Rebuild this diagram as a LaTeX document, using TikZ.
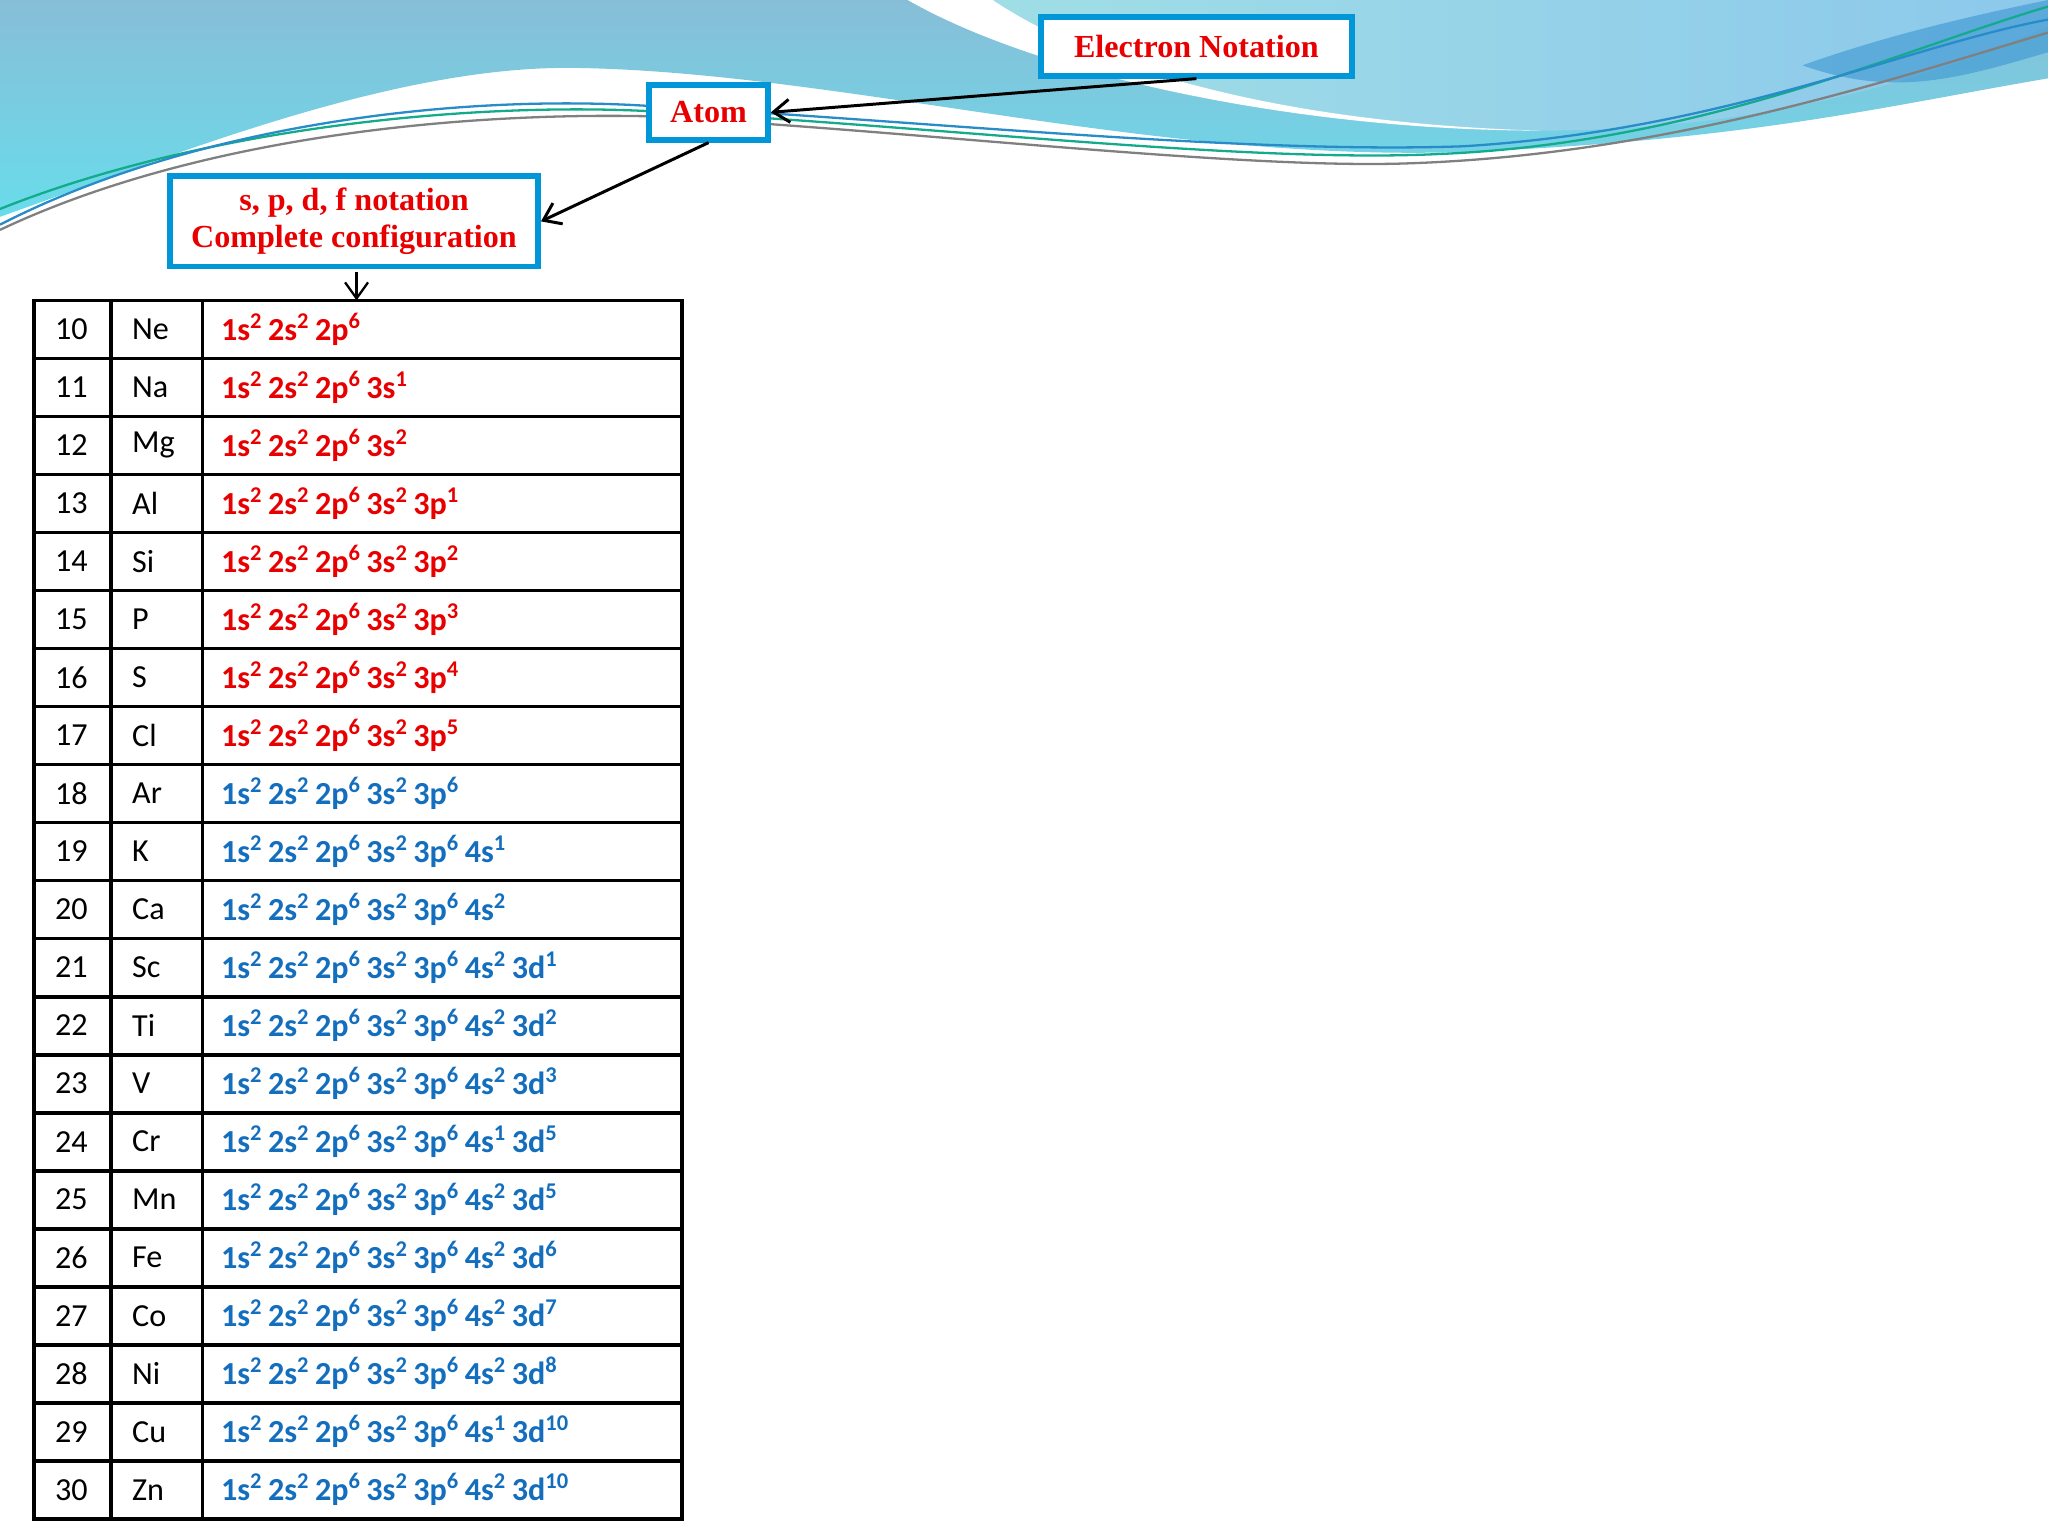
\documentclass[tikz,border=0pt]{standalone}
\usepackage{fontspec}
\setmainfont{Carlito}
\newfontfamily\boxfont{Liberation Serif}
\usetikzlibrary{arrows.meta}
\definecolor{cred}{RGB}{232,0,0}
\definecolor{cblue}{RGB}{20,110,190}
\definecolor{bord}{RGB}{0,150,215}
\definecolor{wa}{RGB}{105,220,235}
\definecolor{wb}{RGB}{135,190,215}
\definecolor{wc}{RGB}{160,222,230}
\definecolor{wd}{RGB}{140,200,235}
\definecolor{we}{RGB}{60,150,210}
\definecolor{la}{RGB}{20,170,140}
\definecolor{lb}{RGB}{40,140,200}
\newcommand\orb[2]{#1\textsuperscript{#2}\,}
\tikzset{
  lbl/.style={draw=bord,line width=2.5pt,fill=white,font=\boxfont\bfseries\fontsize{14}{17}\selectfont,text=cred,align=center,inner sep=0pt},
  arr/.style={-{Straight Barb[length=7pt,width=10pt]},line width=1.3pt},
  cell/.style={anchor=west,font=\fontsize{14}{16}\selectfont},
  cfg/.style={anchor=west,font=\bfseries\fontsize{14}{16}\selectfont}
}
\begin{document}
\begin{tikzpicture}[x=0.02cm,y=-0.02cm]
\useasboundingbox (0,0) rectangle (1568,1176);
\fill[white] (0,0) rectangle (1568,1176);
% background waves
\shade[top color=wb,bottom color=wa]
  (0,0) -- (0,166) .. controls (130,120) and (300,50) .. (440,52) .. controls (650,55) and (900,130) .. (1150,115)
  .. controls (1350,105) and (1450,80) .. (1568,60) -- (1568,0) -- cycle;
\shade[left color=wc,right color=wd]
  (760,0) .. controls (850,60) and (1000,95) .. (1180,100) .. controls (1350,100) and (1480,60) .. (1568,20) -- (1568,0) -- cycle;
\fill[white] (695,0) -- (760,0) .. controls (850,60) and (1000,95) .. (1180,100) .. controls (1000,100) and (800,60) .. (695,0) -- cycle;
\fill[white] (0,170) .. controls (130,125) and (300,55) .. (440,55) .. controls (650,58) and (900,132) .. (1150,118)
  .. controls (1350,108) and (1450,82) .. (1568,64) -- (1568,1176) -- (0,1176) -- cycle;
\fill[we,opacity=0.6] (1380,50) .. controls (1450,25) and (1520,10) .. (1568,0) -- (1568,40) .. controls (1500,60) and (1450,75) .. (1380,50) -- cycle;
\draw[la,line width=1pt] (0,160) .. controls (150,100) and (350,78) .. (495,85) .. controls (700,95) and (950,125) .. (1100,118) .. controls (1300,110) and (1450,40) .. (1568,5);
\draw[lb,line width=1pt] (0,172) .. controls (150,95) and (350,72) .. (495,81) .. controls (700,92) and (950,118) .. (1120,112) .. controls (1320,100) and (1460,35) .. (1568,15);
\draw[gray,line width=1pt] (0,176) .. controls (150,105) and (350,86) .. (495,89) .. controls (700,100) and (950,130) .. (1080,125) .. controls (1280,118) and (1450,60) .. (1568,25);
% boxes
\node[lbl,minimum width=4.76cm,minimum height=0.9cm] (en) at (916,35.5) {Electron Notation};
\node[lbl,minimum width=1.82cm,minimum height=0.84cm] (atom) at (542.5,86) {Atom};
\node[lbl,minimum width=5.64cm,minimum height=1.38cm] (spdf) at (271,169.5) {s, p, d, f notation\\[-1pt]Complete configuration};
% table
\coordinate (ttop) at (273,230);
\coordinate (sbot) at (273,208);
\draw[line width=1.5pt] (26,230) rectangle (522,1163);
\foreach \i in {1,...,20} \draw[line width=1.5pt] (26,230+\i*44.43) -- (522,230+\i*44.43);
\draw[line width=1.5pt] (85,230) -- (85,1163) (155,230) -- (155,1163);
\foreach [count=\k from 0] \n/\s/\c/\col in {
10/Ne/{\orb{1s}{2}\orb{2s}{2}\orb{2p}{6}}/cred,
11/Na/{\orb{1s}{2}\orb{2s}{2}\orb{2p}{6}\orb{3s}{1}}/cred,
12/Mg/{\orb{1s}{2}\orb{2s}{2}\orb{2p}{6}\orb{3s}{2}}/cred,
13/Al/{\orb{1s}{2}\orb{2s}{2}\orb{2p}{6}\orb{3s}{2}\orb{3p}{1}}/cred,
14/Si/{\orb{1s}{2}\orb{2s}{2}\orb{2p}{6}\orb{3s}{2}\orb{3p}{2}}/cred,
15/P/{\orb{1s}{2}\orb{2s}{2}\orb{2p}{6}\orb{3s}{2}\orb{3p}{3}}/cred,
16/S/{\orb{1s}{2}\orb{2s}{2}\orb{2p}{6}\orb{3s}{2}\orb{3p}{4}}/cred,
17/Cl/{\orb{1s}{2}\orb{2s}{2}\orb{2p}{6}\orb{3s}{2}\orb{3p}{5}}/cred,
18/Ar/{\orb{1s}{2}\orb{2s}{2}\orb{2p}{6}\orb{3s}{2}\orb{3p}{6}}/cblue,
19/K/{\orb{1s}{2}\orb{2s}{2}\orb{2p}{6}\orb{3s}{2}\orb{3p}{6}\orb{4s}{1}}/cblue,
20/Ca/{\orb{1s}{2}\orb{2s}{2}\orb{2p}{6}\orb{3s}{2}\orb{3p}{6}\orb{4s}{2}}/cblue,
21/Sc/{\orb{1s}{2}\orb{2s}{2}\orb{2p}{6}\orb{3s}{2}\orb{3p}{6}\orb{4s}{2}\orb{3d}{1}}/cblue,
22/Ti/{\orb{1s}{2}\orb{2s}{2}\orb{2p}{6}\orb{3s}{2}\orb{3p}{6}\orb{4s}{2}\orb{3d}{2}}/cblue,
23/V/{\orb{1s}{2}\orb{2s}{2}\orb{2p}{6}\orb{3s}{2}\orb{3p}{6}\orb{4s}{2}\orb{3d}{3}}/cblue,
24/Cr/{\orb{1s}{2}\orb{2s}{2}\orb{2p}{6}\orb{3s}{2}\orb{3p}{6}\orb{4s}{1}\orb{3d}{5}}/cblue,
25/Mn/{\orb{1s}{2}\orb{2s}{2}\orb{2p}{6}\orb{3s}{2}\orb{3p}{6}\orb{4s}{2}\orb{3d}{5}}/cblue,
26/Fe/{\orb{1s}{2}\orb{2s}{2}\orb{2p}{6}\orb{3s}{2}\orb{3p}{6}\orb{4s}{2}\orb{3d}{6}}/cblue,
27/Co/{\orb{1s}{2}\orb{2s}{2}\orb{2p}{6}\orb{3s}{2}\orb{3p}{6}\orb{4s}{2}\orb{3d}{7}}/cblue,
28/Ni/{\orb{1s}{2}\orb{2s}{2}\orb{2p}{6}\orb{3s}{2}\orb{3p}{6}\orb{4s}{2}\orb{3d}{8}}/cblue,
29/Cu/{\orb{1s}{2}\orb{2s}{2}\orb{2p}{6}\orb{3s}{2}\orb{3p}{6}\orb{4s}{1}\orb{3d}{10}}/cblue,
30/Zn/{\orb{1s}{2}\orb{2s}{2}\orb{2p}{6}\orb{3s}{2}\orb{3p}{6}\orb{4s}{2}\orb{3d}{10}}/cblue}
{
  \node[cell] (z\n) at (36,252+\k*44.43) {\n};
  \node[cell] (e\n) at (95,252+\k*44.43) {\s};
  \node[cfg,text=\col] (c\n) at (163,252+\k*44.43) {\c};
}
% arrows
\draw[arr] (en.south) -- (atom.east);
\draw[arr] (atom.south) -- (spdf.east);
\draw[arr,line width=1pt] (sbot) -- (ttop);
\end{tikzpicture}
\end{document}
